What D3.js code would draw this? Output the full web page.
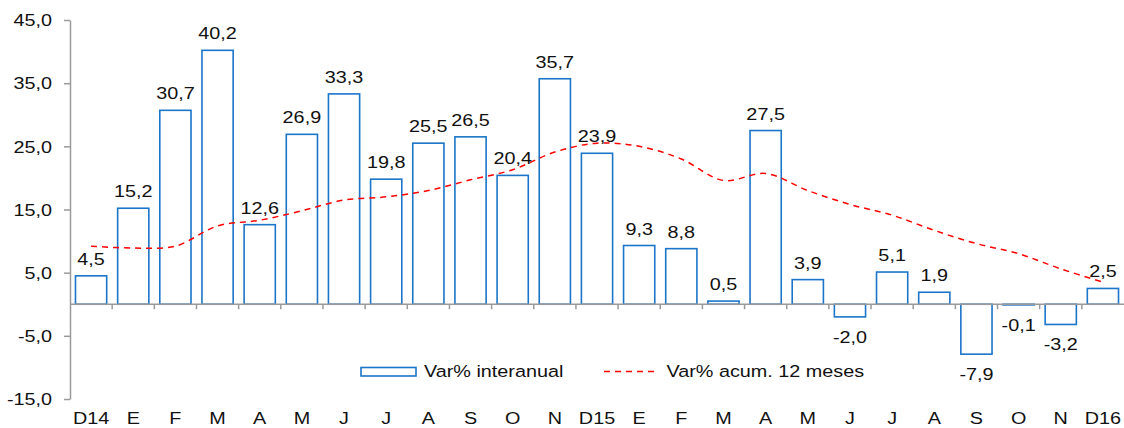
<!DOCTYPE html>
<html>
<head>
<meta charset="utf-8">
<script src="https://cdn.jsdelivr.net/npm/d3@7"></script>
<style>
  body { margin: 0; background: #fff; }
  svg { display: block; font-family: "Liberation Sans", Arial, sans-serif; }
</style>
</head>
<body>
<svg id="chart" width="1124" height="428"></svg>
<script>
// --- Data ---

const CATEGORIES = ["D14", "E", "F", "M", "A", "M", "J", "J", "A", "S", "O", "N",
  "D15", "E", "F", "M", "A", "M", "J", "J", "A", "S", "O", "N", "D16"];

const VAR_INTERANUAL = [4.5, 15.2, 30.7, 40.2, 12.6, 26.9, 33.3, 19.8, 25.5, 26.5, 20.4, 35.7,
  23.9, 9.3, 8.8, 0.5, 27.5, 3.9, -2.0, 5.1, 1.9, -7.9, -0.1, -3.2, 2.5];

const VAR_ACUM_12 = [9.2, 8.9, 9.2, 12.4, 13.3, 14.8, 16.5, 17.0, 18.0, 19.7, 21.3, 24.1,
  25.5, 25.0, 23.0, 19.6, 20.7, 18.0, 15.8, 14.1, 11.7, 9.6, 8.0, 5.6, 3.5];

const Y_TICKS = [-15, -5, 5, 15, 25, 35, 45];

// --- Chart ---

const BAR_COLOR = "#1b75c9";
const LINE_COLOR = "#ff0000";
const AXIS_COLOR = "#9a9a9a";
const TEXT_COLOR = "#111";
const FONT_SIZE = 16.5;
const STRETCH = 1.2; // source picture text is a bit wider than it is tall

const fmt = (v) => v.toFixed(1).replace(".", ",");

const svg = d3.select("#chart");
const margin = { left: 70, right: 0, top: 20, bottom: 29 };
const width = 1124;
const height = 428;

const idx = CATEGORIES.map((_, i) => i);

const x = d3.scaleBand()
  .domain(idx)
  .range([margin.left, width - margin.right])
  .paddingInner(0.26)
  .paddingOuter(0.13);

const y = d3.scaleLinear()
  .domain([-15, 45])
  .range([height - margin.bottom, margin.top]);

const cx = (i) => x(i) + x.bandwidth() / 2;

// text placed with a horizontal stretch
function stretchText(sel, fx, fy) {
  return sel
    .attr("transform", (d, i) => `translate(${fx(d, i)},${fy(d, i)}) scale(${STRETCH},1)`)
    .attr("font-size", FONT_SIZE)
    .attr("fill", TEXT_COLOR);
}

// Y axis
const yAxis = svg.append("g")
  .attr("transform", `translate(${margin.left},0)`)
  .call(d3.axisLeft(y).tickValues(Y_TICKS).tickFormat("").tickSize(6).tickSizeOuter(0));
yAxis.select(".domain").attr("stroke", AXIS_COLOR).attr("stroke-width", 1.5);
yAxis.selectAll(".tick line").attr("stroke", AXIS_COLOR).attr("stroke-width", 1.5);

svg.append("g")
  .selectAll("text")
  .data(Y_TICKS)
  .join("text")
  .attr("text-anchor", "end")
  .text(fmt)
  .call(stretchText, () => 52, (d) => y(d) + 6.3);

// Bars
svg.append("g")
  .selectAll("rect")
  .data(VAR_INTERANUAL)
  .join("rect")
  .attr("x", (d, i) => x(i))
  .attr("width", x.bandwidth())
  .attr("y", (d) => y(Math.max(0, d)))
  .attr("height", (d) => Math.max(0.6, Math.abs(y(d) - y(0))))
  .attr("fill", "#fff")
  .attr("stroke", BAR_COLOR)
  .attr("stroke-width", 1.6);

// X axis at zero
const step = x.step();
svg.append("line")
  .attr("x1", margin.left).attr("x2", width)
  .attr("y1", y(0)).attr("y2", y(0))
  .attr("stroke", AXIS_COLOR).attr("stroke-width", 1.5);

svg.append("g")
  .selectAll("line")
  .data(idx.slice(1))
  .join("line")
  .attr("x1", (i) => x(i) - x.paddingInner() * step / 2)
  .attr("x2", (i) => x(i) - x.paddingInner() * step / 2)
  .attr("y1", y(0))
  .attr("y2", y(0) + 5)
  .attr("stroke", AXIS_COLOR)
  .attr("stroke-width", 1.5);

// Category labels
svg.append("g")
  .selectAll("text")
  .data(CATEGORIES)
  .join("text")
  .attr("text-anchor", "middle")
  .text((d) => d)
  .call(stretchText, (d, i) => cx(i), () => 423.5);

// Accumulated line
const line = d3.line()
  .x((d, i) => cx(i))
  .y((d) => y(d))
  .curve(d3.curveCatmullRom.alpha(0.5));

svg.append("path")
  .datum(VAR_ACUM_12)
  .attr("d", line)
  .attr("fill", "none")
  .attr("stroke", LINE_COLOR)
  .attr("stroke-width", 1.5)
  .attr("stroke-dasharray", "6,5");

// Value labels
svg.append("g")
  .selectAll("text")
  .data(VAR_INTERANUAL)
  .join("text")
  .attr("text-anchor", "middle")
  .text(fmt)
  .call(stretchText, (d, i) => cx(i), (d) => d >= 0 ? y(d) - 11 : y(d) + 26);

// Legend
const legend = svg.append("g");
legend.append("rect")
  .attr("x", 361).attr("y", 367.5)
  .attr("width", 55).attr("height", 8.5)
  .attr("fill", "#fff")
  .attr("stroke", BAR_COLOR)
  .attr("stroke-width", 1.6);
legend.append("line")
  .attr("x1", 604).attr("x2", 654)
  .attr("y1", 371.5).attr("y2", 371.5)
  .attr("stroke", LINE_COLOR)
  .attr("stroke-width", 1.5)
  .attr("stroke-dasharray", "6,5");
legend.selectAll("text")
  .data([[424, "Var% interanual"], [666.5, "Var% acum. 12 meses"]])
  .join("text")
  .text((d) => d[1])
  .call(stretchText, (d) => d[0], () => 377);
</script>
</body>
</html>
